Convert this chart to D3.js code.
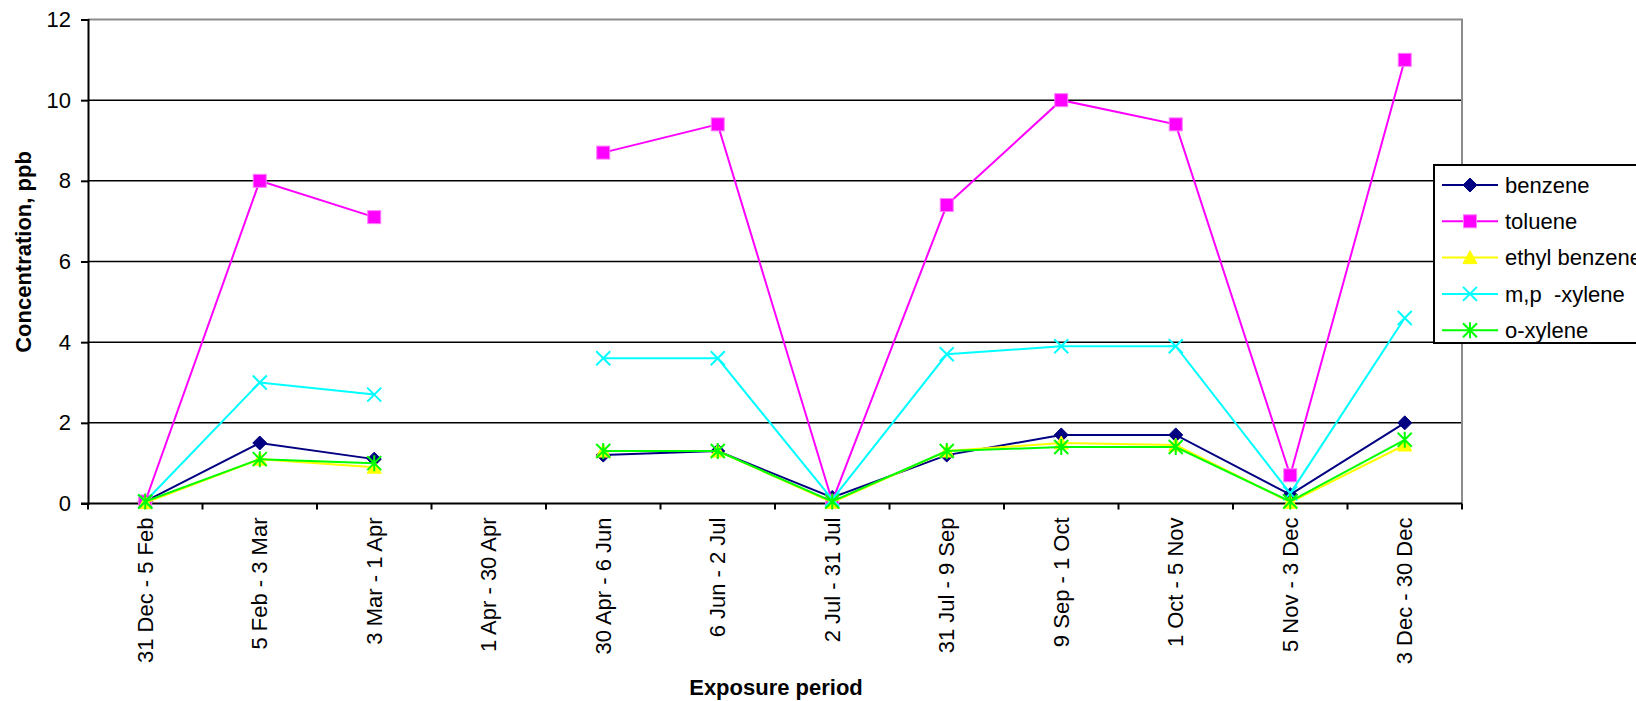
<!DOCTYPE html>
<html>
<head>
<meta charset="utf-8">
<script src="https://cdn.jsdelivr.net/npm/d3@7"></script>
<style>
  html, body { margin: 0; padding: 0; background: #fff; }
  svg { display: block; font-family: "Liberation Sans", sans-serif; }
</style>
</head>
<body>
<svg id="chart" width="1636" height="701"></svg>
<script>
// Exposure periods (x categories)
const periods = [
  "31 Dec - 5 Feb", "5 Feb - 3 Mar", "3 Mar - 1 Apr", "1 Apr - 30 Apr",
  "30 Apr - 6 Jun", "6 Jun - 2 Jul", "2 Jul - 31 Jul", "31 Jul - 9 Sep",
  "9 Sep - 1 Oct", "1 Oct - 5 Nov", "5 Nov - 3 Dec", "3 Dec - 30 Dec"
];

// Concentrations, ppb (null = no sample)
const benzene      = [0.05, 1.5, 1.1, null, 1.2, 1.3, 0.15, 1.2, 1.7, 1.7, 0.22, 2.0];
const toluene      = [0.05, 8.0, 7.1, null, 8.7, 9.4, 0.05, 7.4, 10.0, 9.4, 0.7, 11.0];
const ethylBenzene = [0.02, 1.1, 0.9, null, 1.3, 1.3, 0.03, 1.3, 1.5, 1.45, 0.03, 1.45];
const mpXylene     = [0.05, 3.0, 2.7, null, 3.6, 3.6, 0.1, 3.7, 3.9, 3.9, 0.25, 4.6];
const oXylene      = [0.05, 1.1, 1.0, null, 1.3, 1.3, 0.05, 1.3, 1.4, 1.4, 0.05, 1.58];

const seriesNames = ["benzene", "toluene", "ethyl benzene", "m,p  -xylene", "o-xylene"];
const seriesData  = [benzene, toluene, ethylBenzene, mpXylene, oXylene];
const seriesColors = ["#000080", "#FF00FF", "#FFFF00", "#00FFFF", "#00FF00"];
const seriesMarkers = ["diamond", "square", "triangle", "cross", "star"];

const yTicks = [0, 2, 4, 6, 8, 10, 12];

const FONT = "'Liberation Sans', sans-serif";
const svg = d3.select("#chart");
const plot = { left: 88, right: 1462, top: 19.5, bottom: 503.5 };

const x = d3.scaleBand().domain(periods).range([plot.left, plot.right]).padding(0);
const cx = d => x(d) + x.bandwidth() / 2;
const y = d3.scaleLinear().domain([0, 12]).range([plot.bottom, plot.top]);

// Horizontal gridlines
svg.append("g")
  .selectAll("line")
  .data(yTicks.filter(t => t > 0 && t < 12))
  .join("line")
  .attr("x1", plot.left).attr("x2", plot.right)
  .attr("y1", d => y(d)).attr("y2", d => y(d))
  .attr("stroke", "#000").attr("stroke-width", 1.5);

// Plot frame: top and right in grey
svg.append("path")
  .attr("d", `M${plot.left},${y(12)}H${plot.right}V${plot.bottom}`)
  .attr("fill", "none").attr("stroke", "#8c8c8c").attr("stroke-width", 2);

// Y axis
const yAxis = svg.append("g")
  .attr("transform", `translate(${plot.left},0)`)
  .call(d3.axisLeft(y).tickValues(yTicks).tickSize(7).tickPadding(10).tickFormat(d3.format("d")));
yAxis.select(".domain").attr("stroke", "#000").attr("stroke-width", 2);
yAxis.selectAll(".tick line").attr("stroke", "#000").attr("stroke-width", 2);
yAxis.selectAll(".tick text")
  .attr("font-size", 22).attr("fill", "#000")
  .style("font-family", FONT);

// X axis: ticks between categories
const xAxisG = svg.append("g").attr("transform", `translate(0,${plot.bottom})`);
const boundaries = periods.map(p => x(p)).concat([plot.right]);
xAxisG.append("line")
  .attr("x1", plot.left - 7).attr("x2", plot.right)
  .attr("y1", 0).attr("y2", 0)
  .attr("stroke", "#000").attr("stroke-width", 2);
xAxisG.selectAll("line.tick")
  .data(boundaries)
  .join("line").attr("class", "tick")
  .attr("x1", d => d).attr("x2", d => d)
  .attr("y1", 0).attr("y2", 6)
  .attr("stroke", "#000").attr("stroke-width", 2);
xAxisG.selectAll("text")
  .data(periods)
  .join("text")
  .attr("transform", d => `translate(${cx(d)},14) rotate(-90)`)
  .attr("text-anchor", "end")
  .attr("dy", "0.35em")
  .attr("font-size", 22)
  .attr("fill", "#000")
  .style("font-family", FONT)
  .text(d => d);

// Axis titles
svg.append("text")
  .attr("transform", `translate(23,252) rotate(-90)`)
  .attr("text-anchor", "middle").attr("dy", "0.35em")
  .attr("font-size", 22).attr("font-weight", "bold")
  .style("font-family", FONT)
  .text("Concentration, ppb");

svg.append("text")
  .attr("x", (plot.left + plot.right) / 2 + 1).attr("y", 695)
  .attr("text-anchor", "middle")
  .attr("font-size", 22).attr("font-weight", "bold")
  .style("font-family", FONT)
  .text("Exposure period");

// Marker drawing
function drawMarker(g, type, color) {
  if (type === "diamond") {
    g.append("path").attr("d", "M0,-7L7,0L0,7L-7,0Z").attr("fill", color).attr("stroke", color);
  } else if (type === "square") {
    g.append("rect").attr("x", -6.5).attr("y", -6.5).attr("width", 13).attr("height", 13)
      .attr("fill", color).attr("stroke", "#ff7cff").attr("stroke-width", 1);
  } else if (type === "triangle") {
    g.append("path").attr("d", "M0,-7L7,6L-7,6Z").attr("fill", color).attr("stroke", color);
  } else if (type === "cross") {
    g.append("path").attr("d", "M-7,-7L7,7M-7,7L7,-7").attr("stroke", color).attr("stroke-width", 2).attr("fill", "none");
  } else if (type === "star") {
    g.append("path").attr("d", "M-7,-7L7,7M-7,7L7,-7M0,-8L0,8").attr("stroke", color).attr("stroke-width", 2).attr("fill", "none");
  }
}

// Series lines and markers
const line = d3.line()
  .defined(d => d.v !== null)
  .x(d => cx(d.p))
  .y(d => y(d.v));

seriesData.forEach((vals, i) => {
  const pts = periods.map((p, j) => ({ p, v: vals[j] }));
  const g = svg.append("g");
  g.append("path")
    .datum(pts)
    .attr("d", line)
    .attr("fill", "none")
    .attr("stroke", seriesColors[i])
    .attr("stroke-width", 2);
  pts.filter(d => d.v !== null).forEach(d => {
    const mg = g.append("g").attr("transform", `translate(${cx(d.p)},${y(d.v)})`);
    drawMarker(mg, seriesMarkers[i], seriesColors[i]);
  });
});

// Legend
const legend = svg.append("g").attr("transform", "translate(1434,165)");
legend.append("rect")
  .attr("x", 0).attr("y", 0).attr("width", 260).attr("height", 178)
  .attr("fill", "#fff").attr("stroke", "#000").attr("stroke-width", 2);
seriesNames.forEach((name, i) => {
  const yy = 20 + i * 36.3;
  const row = legend.append("g").attr("transform", `translate(0,${yy})`);
  row.append("line").attr("x1", 8).attr("x2", 64).attr("y1", 0).attr("y2", 0)
    .attr("stroke", seriesColors[i]).attr("stroke-width", 2);
  drawMarker(row.append("g").attr("transform", "translate(36,0)"), seriesMarkers[i], seriesColors[i]);
  row.append("text").attr("x", 71).attr("y", 0).attr("dy", "0.35em")
    .attr("font-size", 22).attr("fill", "#000")
    .style("font-family", FONT)
    .style("white-space", "pre")
    .text(name);
});
</script>
</body>
</html>
